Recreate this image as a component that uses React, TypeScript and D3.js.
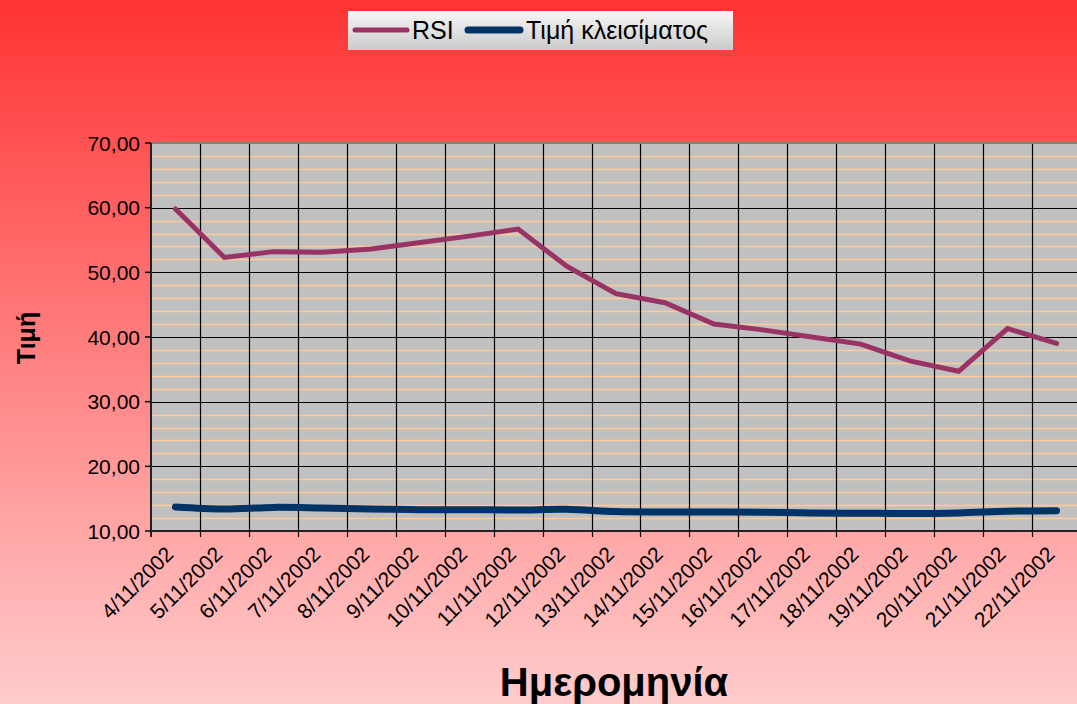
import * as d3 from "d3";
import { useEffect, useRef } from "react";

const dates = [
  "4/11/2002", "5/11/2002", "6/11/2002", "7/11/2002", "8/11/2002",
  "9/11/2002", "10/11/2002", "11/11/2002", "12/11/2002", "13/11/2002",
  "14/11/2002", "15/11/2002", "16/11/2002", "17/11/2002", "18/11/2002",
  "19/11/2002", "20/11/2002", "21/11/2002", "22/11/2002",
];
const rsi = [
  59.8, 52.3, 53.2, 53.1, 53.6, 54.6, 55.6, 56.7, 50.9, 46.7,
  45.3, 42.0, 41.1, 40.0, 38.9, 36.3, 34.7, 41.3, 39.0,
];
const closePrice = [
  13.7, 13.4, 13.65, 13.55, 13.4, 13.3, 13.3, 13.25, 13.35, 13.0,
  12.95, 12.95, 12.9, 12.8, 12.75, 12.7, 12.8, 13.05, 13.15,
];
const yTicks = [10, 20, 30, 40, 50, 60, 70];
const seriesNames = ["RSI", "Τιμή κλεισίματος"];

const FONT = "Liberation Sans, Arial, sans-serif";

export default function App() {
  const ref = useRef<SVGSVGElement>(null);
  const width = 1077;
  const height = 704;

  useEffect(() => {
    const svg = d3.select(ref.current);
    svg.selectAll("*").remove();

    const defs = svg.append("defs");
    const bg = defs.append("linearGradient").attr("id", "bg")
      .attr("x1", 0).attr("y1", 0).attr("x2", 0).attr("y2", 1);
    bg.append("stop").attr("offset", "0%").attr("stop-color", "#ff3333");
    bg.append("stop").attr("offset", "100%").attr("stop-color", "#ffcccc");
    const lg = defs.append("linearGradient").attr("id", "lg")
      .attr("x1", 0).attr("y1", 0).attr("x2", 0).attr("y2", 1);
    lg.append("stop").attr("offset", "0%").attr("stop-color", "#f6f6f6");
    lg.append("stop").attr("offset", "100%").attr("stop-color", "#cbcbcb");

    svg.append("rect").attr("width", width).attr("height", height).attr("fill", "url(#bg)");

    const left = 151, right = 1081, top = 143, bottom = 531;
    const x = d3.scaleBand<string>().domain(dates).range([left, right]);
    const y = d3.scaleLinear().domain([10, 70]).range([bottom, top]);
    const cx = (d: string) => (x(d) as number) + x.bandwidth() / 2;

    svg.append("rect").attr("x", left).attr("y", top)
      .attr("width", right - left).attr("height", bottom - top).attr("fill", "#c0c0c0");

    // minor gridlines
    const minor = d3.range(12, 70, 2).filter((v) => v % 10 !== 0);
    svg.append("g").selectAll("line").data(minor).join("line")
      .attr("x1", left).attr("x2", right)
      .attr("y1", (d) => Math.round(y(d)) + 0.5).attr("y2", (d) => Math.round(y(d)) + 0.5)
      .attr("stroke", "#ffcc99").attr("stroke-width", 1.3);

    // major gridlines
    svg.append("g").selectAll("line").data(yTicks.slice(1, -1)).join("line")
      .attr("x1", left).attr("x2", right)
      .attr("y1", (d) => Math.round(y(d)) + 0.5).attr("y2", (d) => Math.round(y(d)) + 0.5)
      .attr("stroke", "#000").attr("stroke-width", 1.2);

    // vertical gridlines
    svg.append("g").selectAll("line").data(dates.slice(1)).join("line")
      .attr("x1", (d) => Math.round(x(d) as number) + 0.5)
      .attr("x2", (d) => Math.round(x(d) as number) + 0.5)
      .attr("y1", top).attr("y2", bottom + 6)
      .attr("stroke", "#000").attr("stroke-width", 1.2);

    svg.append("line").attr("x1", left).attr("x2", right)
      .attr("y1", top).attr("y2", top).attr("stroke", "#808080").attr("stroke-width", 2);

    // axes
    svg.append("line").attr("x1", left).attr("x2", left)
      .attr("y1", top).attr("y2", bottom + 6).attr("stroke", "#222").attr("stroke-width", 2);
    svg.append("line").attr("x1", left).attr("x2", right)
      .attr("y1", bottom).attr("y2", bottom).attr("stroke", "#222").attr("stroke-width", 2);

    const yAx = svg.append("g");
    yAx.selectAll("line").data(yTicks).join("line")
      .attr("x1", left - 6).attr("x2", left)
      .attr("y1", (d) => y(d)).attr("y2", (d) => y(d))
      .attr("stroke", "#000").attr("stroke-width", 1.5);
    yAx.selectAll("text").data(yTicks).join("text")
      .attr("x", left - 11).attr("y", (d) => y(d) + 7.5)
      .attr("text-anchor", "end")
      .attr("font-family", FONT).attr("font-size", 21)
      .text((d) => d3.format(".2f")(d).replace(".", ","));

    svg.append("g").selectAll("text").data(dates).join("text")
      .attr("transform", (d) => `translate(${cx(d) - 11},${bottom + 14}) rotate(-45)`)
      .attr("text-anchor", "end")
      .attr("dy", "0.7em")
      .attr("font-family", FONT).attr("font-size", 21)
      .text((d) => d);

    // lines
    const rsiLine = d3.line<number>().x((_, i) => cx(dates[i])).y((d) => y(d));
    const closeLine = d3.line<number>().x((_, i) => cx(dates[i])).y((d) => y(d))
      .curve(d3.curveCatmullRom);
    svg.append("path").datum(closePrice).attr("d", closeLine)
      .attr("fill", "none").attr("stroke", "#003366").attr("stroke-width", 7)
      .attr("stroke-linecap", "round").attr("stroke-linejoin", "round");
    svg.append("path").datum(rsi).attr("d", rsiLine)
      .attr("fill", "none").attr("stroke", "#993366").attr("stroke-width", 5)
      .attr("stroke-linecap", "round").attr("stroke-linejoin", "miter");

    // axis titles
    svg.append("text").attr("transform", "translate(35,338) rotate(-90)")
      .attr("text-anchor", "middle")
      .attr("font-family", FONT)
      .attr("font-weight", "bold").attr("font-size", 25).text("Τιμή");
    svg.append("text").attr("x", 614).attr("y", 696)
      .attr("text-anchor", "middle")
      .attr("font-family", FONT)
      .attr("font-weight", "bold").attr("font-size", 40).text("Ημερομηνία");

    // legend
    const leg = svg.append("g");
    leg.append("rect").attr("x", 348).attr("y", 11).attr("width", 385).attr("height", 39)
      .attr("fill", "url(#lg)");
    const items = [
      { name: seriesNames[0], color: "#993366", w: 5, x0: 355, tx: 412 },
      { name: seriesNames[1], color: "#003366", w: 7, x0: 468, tx: 526 },
    ];
    items.forEach((it) => {
      leg.append("line").attr("x1", it.x0).attr("x2", it.x0 + 52)
        .attr("y1", 30).attr("y2", 30).attr("stroke", it.color)
        .attr("stroke-width", it.w).attr("stroke-linecap", "round");
      leg.append("text").attr("x", it.tx).attr("y", 39)
        .attr("font-family", FONT).attr("font-size", 25)
        .text(it.name);
    });
  }, []);

  return (
    <svg ref={ref} width={width} height={height}
      style={{ position: "absolute", left: 0, top: 0, display: "block" }} />
  );
}
